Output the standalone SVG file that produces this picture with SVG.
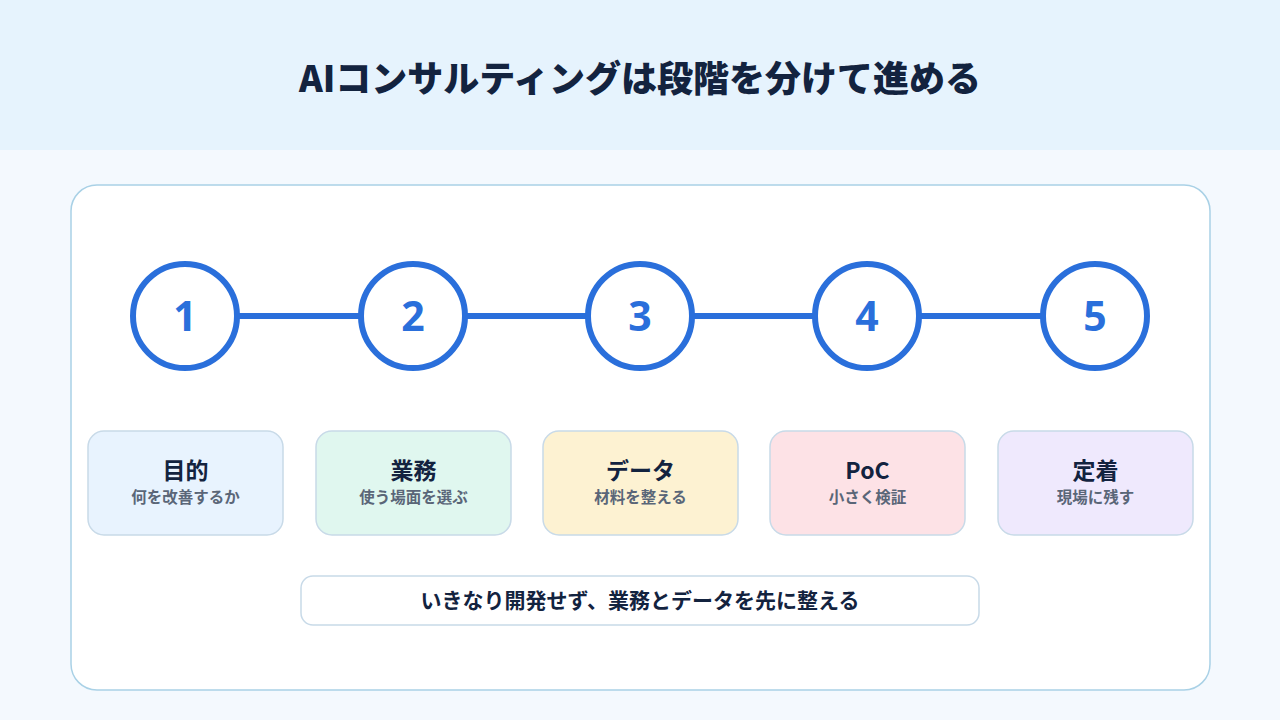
<svg xmlns="http://www.w3.org/2000/svg" width="1280" height="720" viewBox="0 0 1280 720">
<defs>
<style>
.ttl{font-family:"Noto Sans CJK JP","Noto Sans",sans-serif;font-weight:800;fill:#13233f;text-anchor:middle;font-size:36px}
.num{font-family:"Noto Sans","Noto Sans CJK JP",sans-serif;font-weight:700;font-size:41px;fill:#2a6fdb;text-anchor:middle}
.circ{fill:#ffffff;stroke:#2a6fdb;stroke-width:6}
.card{stroke:#c8dae8;stroke-width:1.5}
.ct{font-family:"Noto Sans CJK JP","Noto Sans",sans-serif;font-weight:700;font-size:23px;fill:#13233f;text-anchor:middle}
.cs{font-family:"Noto Sans CJK JP","Noto Sans",sans-serif;font-weight:700;font-size:15.5px;fill:#5a6678;text-anchor:middle}
.nt{font-family:"Noto Sans CJK JP","Noto Sans",sans-serif;font-weight:700;font-size:21px;fill:#13233f;text-anchor:middle}
.ln{stroke:#2a6fdb;stroke-width:6}
</style>
</defs>
<rect x="0" y="0" width="1280" height="720" fill="#f4f9fe"/>
<rect x="0" y="0" width="1280" height="150" fill="#e6f3fd"/>
<text class="ttl" x="640" y="92">AIコンサルティングは段階を分けて進める</text>
<rect x="71" y="185" width="1139" height="505" rx="26" fill="#ffffff" stroke="#a9d1e6" stroke-width="1.5"/>
<g id="connectors">
<line class="ln" x1="237" y1="316" x2="361" y2="316"/>
<line class="ln" x1="465" y1="316" x2="588" y2="316"/>
<line class="ln" x1="692" y1="316" x2="815" y2="316"/>
<line class="ln" x1="919" y1="316" x2="1043" y2="316"/>
</g>
<g id="step1"><circle class="circ" cx="185" cy="316" r="52"/><text class="num" x="185" y="331">1</text></g>
<g id="step2"><circle class="circ" cx="413" cy="316" r="52"/><text class="num" x="413" y="331">2</text></g>
<g id="step3"><circle class="circ" cx="640" cy="316" r="52"/><text class="num" x="640" y="331">3</text></g>
<g id="step4"><circle class="circ" cx="867" cy="316" r="52"/><text class="num" x="867" y="331">4</text></g>
<g id="step5"><circle class="circ" cx="1095" cy="316" r="52"/><text class="num" x="1095" y="331">5</text></g>
<g id="card1"><rect class="card" x="88" y="431" width="195" height="104" rx="16" fill="#e8f3fe"/><text class="ct" x="185.5" y="479">目的</text><text class="cs" x="185.5" y="503">何を改善するか</text></g>
<g id="card2"><rect class="card" x="316" y="431" width="195" height="104" rx="16" fill="#e0f7ef"/><text class="ct" x="413.5" y="479">業務</text><text class="cs" x="413.5" y="503">使う場面を選ぶ</text></g>
<g id="card3"><rect class="card" x="543" y="431" width="195" height="104" rx="16" fill="#fdf2d2"/><text class="ct" x="640.5" y="479">データ</text><text class="cs" x="640.5" y="503">材料を整える</text></g>
<g id="card4"><rect class="card" x="770" y="431" width="195" height="104" rx="16" fill="#fde2e6"/><text class="ct" x="867.5" y="479">PoC</text><text class="cs" x="867.5" y="503">小さく検証</text></g>
<g id="card5"><rect class="card" x="998" y="431" width="195" height="104" rx="16" fill="#efe9fd"/><text class="ct" x="1095.5" y="479">定着</text><text class="cs" x="1095.5" y="503">現場に残す</text></g>
<g id="note"><rect x="301" y="576" width="678" height="49" rx="12" fill="#ffffff" stroke="#c8dae8" stroke-width="1.5"/><text class="nt" x="640" y="608">いきなり開発せず、業務とデータを先に整える</text></g>
</svg>
